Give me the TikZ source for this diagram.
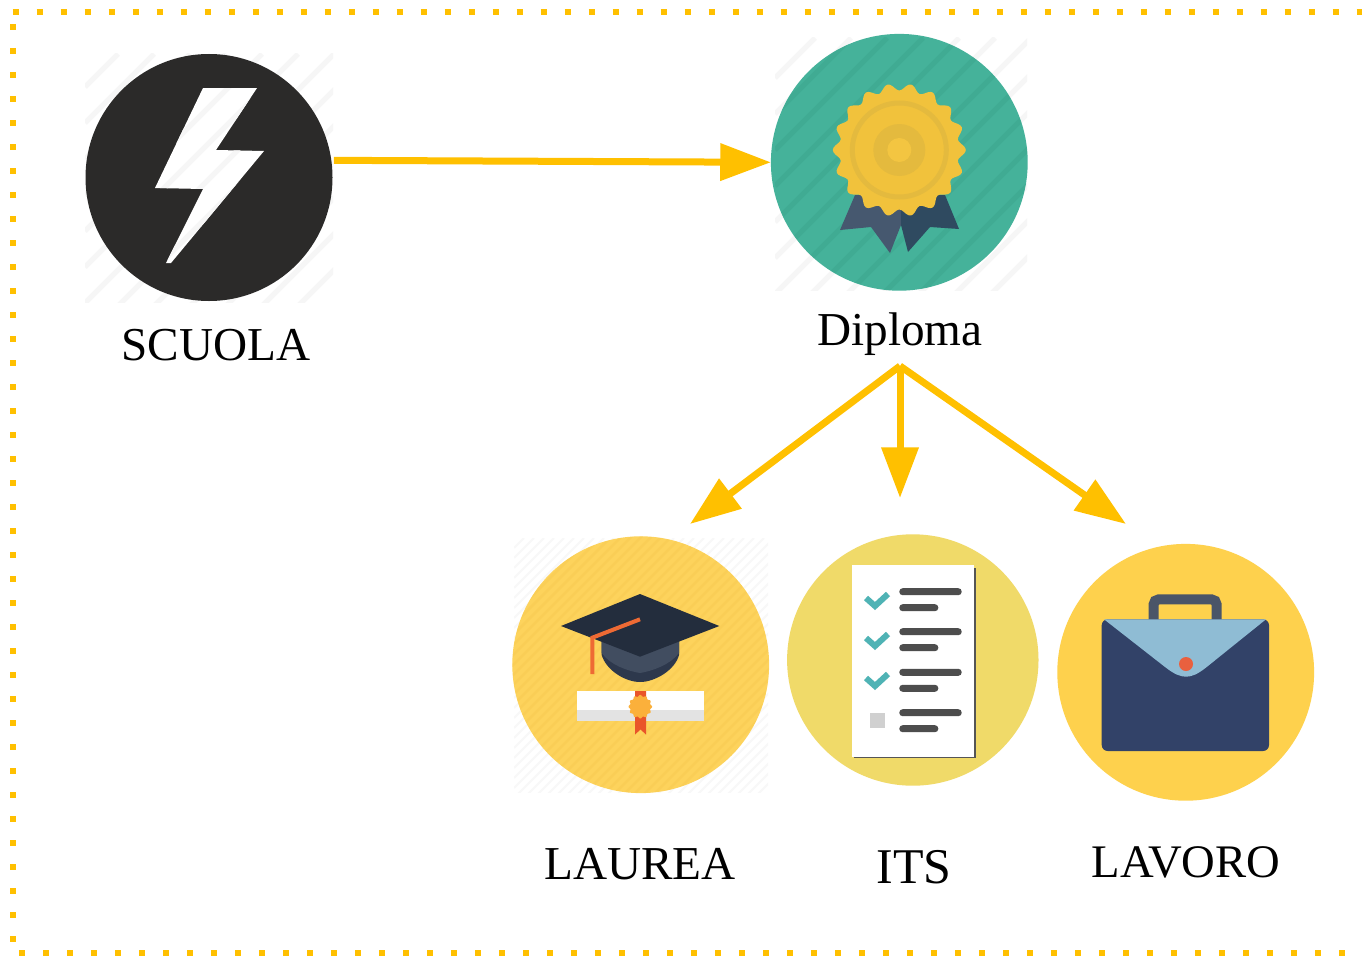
\documentclass[tikz,border=0pt]{standalone}
\usepackage{fontspec}
\setmainfont{Liberation Serif}
\usetikzlibrary{arrows.meta}
\definecolor{accent}{HTML}{FFC000}
\definecolor{faint}{HTML}{F6F6F6}
\definecolor{fainter}{HTML}{F8F8F8}
\definecolor{coalc}{RGB}{43,42,41}
\definecolor{tealc}{RGB}{69,178,154}
\definecolor{tealstripe}{RGB}{64,171,147}
\definecolor{ribbonl}{RGB}{70,88,111}
\definecolor{ribbonr}{RGB}{47,74,96}
\definecolor{sealc}{RGB}{241,194,60}
\definecolor{sealdark}{RGB}{228,186,62}
\definecolor{seallight}{RGB}{243,197,65}
\definecolor{yellowc}{RGB}{253,211,92}
\definecolor{yellowstripe}{RGB}{250,206,86}
\definecolor{capbase}{RGB}{45,56,76}
\definecolor{capband}{RGB}{65,77,96}
\definecolor{captop}{RGB}{35,45,61}
\definecolor{tassel}{RGB}{238,106,52}
\definecolor{scrollshade}{RGB}{227,227,227}
\definecolor{scrollribbon}{RGB}{233,85,42}
\definecolor{scrollseal}{RGB}{251,176,59}
\definecolor{itsc}{RGB}{240,218,105}
\definecolor{papershadow}{RGB}{85,85,85}
\definecolor{barc}{RGB}{77,77,77}
\definecolor{checkc}{RGB}{79,179,181}
\definecolor{boxc}{RGB}{208,208,208}
\definecolor{lavoroc}{RGB}{254,209,77}
\definecolor{handlec}{RGB}{74,85,104}
\definecolor{bagc}{RGB}{50,66,104}
\definecolor{flapc}{RGB}{143,188,212}
\definecolor{dotc}{RGB}{233,96,63}
\tikzset{
  px/.style={x=0.75pt,y=-0.75pt},
  dots/.style={draw=accent,line width=4.5pt,dash pattern=on 4.5pt off 13.5pt},
  link/.style={draw=accent,line width=5.25pt,-{Triangle[length=38pt,width=27pt]}},
  disc/.style={circle,inner sep=0pt,outer sep=0pt,minimum size=#1*1.5pt},
  caption/.style={anchor=base,font=\fontsize{35.4pt}{40pt}\selectfont,text=black,inner sep=0pt},
}
% x0,y0,size,first,spacing,width,colour
\newcommand{\hatchsq}[7]{%
  \begin{scope}
    \clip (#1,#2) rectangle ++(#3,#3);
    \pgfmathsetmacro{\hatchsec}{#4+#5}
    \pgfmathsetmacro{\hatchend}{2*#3}
    \foreach \s in {#4,\hatchsec,...,\hatchend}
      \draw[#7,line width=#6*0.75pt] ({#1+\s},#2) -- (#1,{#2+\s});
  \end{scope}}
\begin{document}
\begin{tikzpicture}[px]
\useasboundingbox (0,0) rectangle (1362,956);
\fill[white] (0,0) rectangle (1362,956);
% frame
\draw[dots] (12.5,12) -- (1362,12);
\draw[dots] (12.5,24) -- (12.5,948);
\draw[dots] (19,953) -- (1362,953);

% ---- SCUOLA
\hatchsq{85}{54}{248}{33}{36}{5}{faint}
\node[disc=123.5,fill=coalc] (scuola) at (209,177.5) {};
\begin{scope}
  \clip (203,88) -- (257,88) -- (216,150) -- (264,151) -- (171,263) -- (166,263) -- (203,189) -- (155,188) -- cycle;
  \fill[white] (150,80) rectangle (270,270);
  \hatchsq{85}{54}{248}{33}{36}{5}{faint}
\end{scope}
\node[caption] (scuolat) at (216,360) {SCUOLA};

% ---- Diploma
\hatchsq{775}{38}{252}{40}{36}{5}{faint}
\node[disc=128.4,fill=tealc] (diploma) at (899.3,162.3) {};
\begin{scope}
  \clip (899.3,162.3) circle [radius=128];
  \hatchsq{775}{38}{252}{40}{36}{5}{tealstripe}
\end{scope}
\fill[ribbonl] (855,195) -- (840,230) -- (871,227) -- (890,253) -- (901,225) -- (901,195) -- cycle;
\fill[ribbonr] (945,195) -- (959,229) -- (930,227) -- (908,252) -- (901,225) -- (901,195) -- cycle;
\begin{scope}[shift={(899.3,150)}]
  \fill[sealc] plot[domain=0:360,samples=181] ({(63+3.5*cos(18*\x))*cos(\x)},{(63+3.5*cos(18*\x))*sin(\x)}) -- cycle;
  \draw[sealdark,line width=3.75pt] (0,0) circle [radius=47];
  \fill[sealdark] (0,0) circle [radius=26];
  \fill[seallight] (0,0) circle [radius=12];
\end{scope}
\node[caption] (diplomat) at (900,345) {Diploma};

% ---- LAUREA
\hatchsq{514}{538}{254}{0}{10}{2}{fainter}
\node[disc=128.4,fill=yellowc] (laurea) at (640.7,664.7) {};
\begin{scope}
  \clip (640.7,664.7) circle [radius=128];
  \hatchsq{512}{536}{258}{0}{10}{2.5}{yellowstripe}
\end{scope}
\fill[capbase] (601.7,640) -- (601.7,655) .. controls (606,670) and (625,682) .. (640,682) .. controls (655,682) and (675,670) .. (679,655) -- (679,640) -- cycle;
\fill[capband] (601.7,640) -- (601.7,653) .. controls (610,665) and (628,671) .. (640,673) .. controls (652,671) and (670,665) .. (679,653) -- (679,640) -- cycle;
\fill[captop] (640,594) -- (719.3,626) -- (640,656.7) -- (561,626) -- cycle;
\draw[tassel,line width=3pt] (640,619.3) -- (592.3,637.7) -- (592.3,674);
\fill[white] (576.7,691) rectangle (704,710);
\fill[scrollshade] (576.7,710) rectangle (704,720.7);
\fill[scrollribbon] (635,691) -- (646,691) -- (646,734.5) -- (640.5,729.5) -- (635,734.5) -- cycle;
\begin{scope}[shift={(640.3,706.7)}]
  \fill[scrollseal] plot[domain=0:360,samples=121] ({(11+0.8*cos(12*\x))*cos(\x)},{(11+0.8*cos(12*\x))*sin(\x)}) -- cycle;
\end{scope}
\node[caption] (laureat) at (640,879) {LAUREA};

% ---- ITS
\node[disc=125.7,fill=itsc] (its) at (912.8,660) {};
\fill[papershadow] (854,568) rectangle (976,758);
\fill[white] (851.7,565) rectangle (974.3,756.5);
\foreach \yy in {591.7,631.7,672.3,712.7} {
  \fill[barc,rounded corners=2.5pt] (899.3,\yy-3.5) rectangle (961.7,\yy+3.5);
  \fill[barc,rounded corners=2.5pt] (899.3,\yy+12.5) rectangle (938.3,\yy+19.5);
}
\foreach \yy in {0,40,80}
  \draw[checkc,line width=4.5pt,line join=miter] (866,598+\yy) -- (875,606+\yy) -- (888,594+\yy);
\fill[boxc] (870,712.7) rectangle (885.3,728.3);
\node[caption,font=\fontsize{37.5pt}{40pt}\selectfont] (itst) at (914,883) {ITS};

% ---- LAVORO
\node[disc=128.4,fill=lavoroc] (lavoro) at (1185.7,672.3) {};
\draw[handlec,line width=7.5pt,rounded corners=4pt] (1153.5,622) -- (1153.5,599.3) -- (1216.7,599.3) -- (1216.7,622);
\fill[bagc,rounded corners=4.5pt] (1101.7,619.3) rectangle (1269,751);
\fill[flapc] (1104,619.3) -- (1266,619.3) -- (1206.7,667) .. controls (1198,674) and (1192,676.7) .. (1186,676.7) .. controls (1180,676.7) and (1174,674) .. (1165,667) -- cycle;
\fill[dotc] (1186,664) circle [radius=7];
\node[caption,font=\fontsize{35pt}{40pt}\selectfont] (lavorot) at (1186,877) {LAVORO};

% ---- connectors
\coordinate (fork) at (900,366);
\coordinate (toLaurea) at (690,524);
\coordinate (toIts) at (900,498);
\coordinate (toLavoro) at (1126,524);
\draw[link,shorten <=2pt] (scuola.8.5) -- (diploma.west);
\draw[link] (fork) -- (toLaurea);
\draw[link] (fork) -- (toIts);
\draw[link] (fork) -- (toLavoro);
\end{tikzpicture}
\end{document}
